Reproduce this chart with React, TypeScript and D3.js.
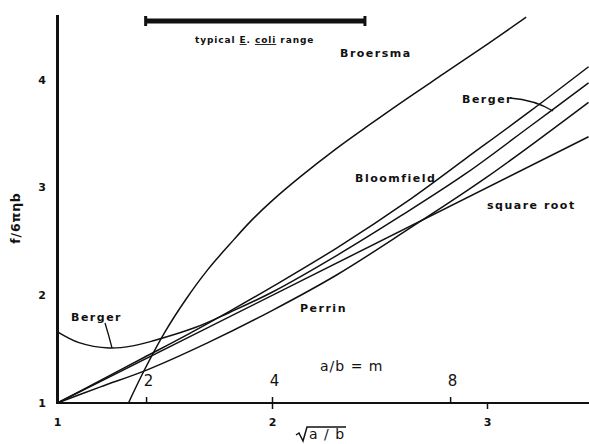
import React from "react";
import * as d3 from "d3";

// Axis ticks
const rootTicks = [1, 2, 3]; // sqrt(a/b)
const ratioTicks = [2, 4, 8]; // a/b = m, placed at sqrt(m)
const yTicks = [1, 2, 3, 4];

// Curves: f / 6πηb against sqrt(a/b)
const broersmaX = [1.33, 1.4, 1.5, 1.6, 1.7, 1.8, 1.9, 2.0, 2.13, 2.3, 2.45, 2.6, 2.8, 3.0, 3.18];
const broersmaY = [1.0, 1.29, 1.66, 1.97, 2.24, 2.47, 2.69, 2.88, 3.1, 3.365, 3.58, 3.79, 4.06, 4.33, 4.58];

const bergerX = [1.0, 1.1, 1.24, 1.35, 1.45, 1.64, 1.8, 2.0, 2.3, 2.6, 2.9, 3.2, 3.47];
const bergerY = [1.66, 1.56, 1.51, 1.53, 1.58, 1.7, 1.84, 2.03, 2.37, 2.74, 3.13, 3.57, 3.97];

const bloomfieldX = [1.0, 1.2, 1.4, 1.6, 1.8, 2.0, 2.3, 2.64, 2.9, 3.2, 3.47];
const bloomfieldY = [1.0, 1.21, 1.42, 1.63, 1.85, 2.08, 2.44, 2.89, 3.27, 3.71, 4.12];

const perrinX = [1.0, 1.2, 1.42, 1.7, 2.0, 2.3, 2.63, 3.0, 3.47];
const perrinY = [1.0, 1.15, 1.31, 1.56, 1.86, 2.19, 2.61, 3.1, 3.79];

const squareRootX = [1.0, 3.47];
const squareRootY = [1.0, 3.47];

// Typical E. coli range in sqrt(a/b)
const coliRange = [1.41, 2.43];

const W = 589;
const H = 444;
const FONT = "'DejaVu Sans', 'Liberation Sans', sans-serif";
const INK = "#111";

export default function App() {
  const x = d3.scaleLinear().domain([1, 3.5]).range([57.5, 57.5 + 2.5 * 215]);
  const y = d3.scaleLinear().domain([1, 4.6]).range([403, 15]);

  const line = d3
    .line<[number, number]>()
    .x((d) => x(d[0]))
    .y((d) => y(d[1]))
    .curve(d3.curveCatmullRom.alpha(0.5));

  const zip = (xs: number[], ys: number[]) => xs.map((v, i) => [v, ys[i]] as [number, number]);

  const curves = [
    zip(broersmaX, broersmaY),
    zip(bergerX, bergerY),
    zip(bloomfieldX, bloomfieldY),
    zip(perrinX, perrinY),
    zip(squareRootX, squareRootY),
  ];

  const x0 = x(1);
  const y0 = y(1);
  const barY = 21;

  return (
    <svg
      width={W}
      height={H}
      style={{ position: "fixed", left: 0, top: 0, background: "#fff" }}
      fontFamily={FONT}
    >
      <rect width={W} height={H} fill="#fff" />
      <defs>
        <clipPath id="plot">
          <rect x={x0} y={y(4.6)} width={W - x0} height={y0 - y(4.6)} />
        </clipPath>
      </defs>

      {/* curves */}
      <g clipPath="url(#plot)" fill="none" stroke={INK} strokeWidth={1.5}>
        {curves.map((c, i) => (
          <path key={i} d={line(c) || ""} />
        ))}
      </g>

      {/* axes */}
      <line x1={x0} y1={y(4.6)} x2={x0} y2={y0 + 1} stroke={INK} strokeWidth={3} />
      <line x1={x0} y1={y0} x2={W} y2={y0} stroke={INK} strokeWidth={2} />

      {/* sqrt(a/b) ticks below the axis */}
      {rootTicks.map((t) => (
        <g key={"r" + t}>
          {t > 1 && <line x1={x(t)} x2={x(t)} y1={y0} y2={y0 + 6} stroke={INK} strokeWidth={1.5} />}
          <text
            x={x(t)}
            y={y0 + 23}
            textAnchor="middle"
            fontSize={11}
            fontWeight="bold"
            fill={INK}
          >
            {t}
          </text>
        </g>
      ))}

      {/* a/b ticks above the axis */}
      {ratioTicks.map((m) => (
        <g key={"m" + m}>
          <line
            x1={x(Math.sqrt(m))}
            x2={x(Math.sqrt(m))}
            y1={y0}
            y2={y0 - 6}
            stroke={INK}
            strokeWidth={1.5}
          />
          <text
            x={x(Math.sqrt(m)) + 2}
            y={y0 - 17}
            textAnchor="middle"
            fontSize={15}
            fill={INK}
          >
            {m}
          </text>
        </g>
      ))}

      {/* y tick labels */}
      {yTicks.map((t) => (
        <text
          key={"y" + t}
          x={42}
          y={y(t) + 4}
          textAnchor="middle"
          fontSize={11}
          fontWeight="bold"
          fill={INK}
        >
          {t}
        </text>
      ))}

      {/* axis titles */}
      <text
        transform={`translate(20, 218) rotate(-90)`}
        textAnchor="middle"
        fontSize={12.5}
        fontWeight="bold"
        fill={INK}
        letterSpacing={0.8}
      >
        f/6πηb
      </text>
      <path
        d="M 296 435 L 299 433 L 303 441 L 307 427 L 346 427"
        fill="none"
        stroke={INK}
        strokeWidth={1.5}
      />
      <text x={309} y={439} fontSize={14} fill={INK} letterSpacing={1}>
        a / b
      </text>
      <text x={320} y={371} fontSize={14} fill={INK} letterSpacing={1}>
        a/b = m
      </text>

      {/* E. coli range bar */}
      <line x1={x(coliRange[0])} x2={x(coliRange[1])} y1={barY} y2={barY} stroke={INK} strokeWidth={5} />
      <line x1={x(coliRange[0])} x2={x(coliRange[0])} y1={barY - 5} y2={barY + 5} stroke={INK} strokeWidth={3} />
      <line x1={x(coliRange[1])} x2={x(coliRange[1])} y1={barY - 5} y2={barY + 5} stroke={INK} strokeWidth={3} />
      <text x={195} y={43} fontSize={9} fontWeight="bold" fill={INK} letterSpacing={0.9}>
        typical{" "}
        <tspan textDecoration="underline">E</tspan>.{" "}
        <tspan textDecoration="underline">coli</tspan> range
      </text>

      {/* curve labels */}
      <g fontSize={11} fontWeight="bold" fill={INK} letterSpacing={1.5}>
        <text x={340} y={57}>Broersma</text>
        <text x={355} y={182}>Bloomfield</text>
        <text x={300} y={312}>Perrin</text>
        <text x={487} y={209}>square root</text>
        <text x={462} y={103}>Berger</text>
        <text x={71} y={321}>Berger</text>
      </g>

      {/* leaders for the Berger labels */}
      <g fill="none" stroke={INK} strokeWidth={1.3}>
        <path d="M 510 98 Q 535 100 553 111" />
        <path d="M 105 323 Q 109 336 112 348" />
      </g>
    </svg>
  );
}
